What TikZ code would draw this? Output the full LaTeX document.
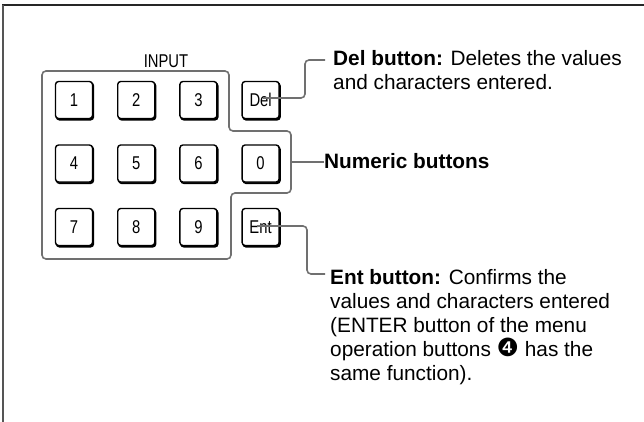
\documentclass[tikz,border=0pt]{standalone}
\usepackage{fontspec}
\setmainfont{Liberation Sans}
\newfontfamily\narrowfont[FakeStretch=0.8]{Liberation Sans}
\newfontfamily\symbolfont{DejaVu Sans}
\usetikzlibrary{shadows,calc}

\definecolor{leadgray}{RGB}{112,112,112}
\definecolor{framegray}{RGB}{85,85,85}

\tikzset{
  keybox/.style={draw, fill=white, line width=1.4pt, rounded corners=3pt,
    minimum width=37pt, minimum height=37pt, inner sep=0pt,
    font=\narrowfont\fontsize{18.5}{18.5}\selectfont,
    copy shadow={shadow xshift=1pt, shadow yshift=-1.4pt, draw=black, fill=black}},
  lead/.style={draw=leadgray, line width=1.6pt, rounded corners=4pt},
  note/.style={font=\fontsize{20.8}{24}\selectfont, align=left, inner sep=0pt}
}

\begin{document}
\begin{tikzpicture}[x=1pt,y=-1pt]
      \useasboundingbox (0,0) rectangle (644,422);

      %%%%%%%%%%%%%%%%%%%%%%%%%%%%%%%%%%%%%%%%%%%%%%%%%%%%%%%%%%%%%%%%%%%%%%%%%%%
      %%%%  Frame
      \draw[black!85,line width=1.5pt] (2,5) -- (644,5);
      \draw[framegray,line width=1.8pt] (3,5) -- (3,422);

      %%%%%%%%%%%%%%%%%%%%%%%%%%%%%%%%%%%%%%%%%%%%%%%%%%%%%%%%%%%%%%%%%%%%%%%%%%%
      %%%%  Numeric group outline
      \draw[lead] (42,71) -- (229,71) -- (229,131) -- (291,131) -- (291,193)
        -- (231,193) -- (231,259) -- (42,259) -- cycle;
      \node[font=\narrowfont\fontsize{18.5}{18.5}\selectfont] (input) at (166,61) {INPUT};

      %%%%%%%%%%%%%%%%%%%%%%%%%%%%%%%%%%%%%%%%%%%%%%%%%%%%%%%%%%%%%%%%%%%%%%%%%%%
      %%%%  Keys
      \foreach \lab/\col/\row in {1/0/0,2/1/0,3/2/0,Del/3/0,
                                  4/0/1,5/1/1,6/2/1,0/3/1,
                                  7/0/2,8/1/2,9/2/2,Ent/3/2}
      {\pgfmathsetmacro\kx{74 + 62.2*\col}
       \pgfmathsetmacro\ky{100 + 63.5*\row}
       \node[keybox] (b\lab) at (\kx,\ky) {\lab};
      };

      %%%%%%%%%%%%%%%%%%%%%%%%%%%%%%%%%%%%%%%%%%%%%%%%%%%%%%%%%%%%%%%%%%%%%%%%%%%
      %%%%  Notes
      \coordinate (delend) at (325,60);
      \coordinate (numend) at (324,162);
      \coordinate (entend) at (325,274);

      \node[note, anchor=north west] (delnote) at (333,50.5)
        {\textbf{Del button:} Deletes the values\\and characters entered.};
      \node[note, anchor=base west] (numnote) at (324,168)
        {\textbf{Numeric buttons}};
      \node[note, anchor=north west] (entnote) at (330,269.5)
        {\textbf{Ent button:} Confirms the\\values and characters entered\\%
         (ENTER button of the menu\\operation buttons {\symbolfont\fontsize{25}{24}\selectfont ❹} has the\\same function).};

      \draw[lead] ([xshift=2.5pt,yshift=2pt]bDel.center) -| ($(delend)+(-20,0)$) -- (delend);
      \draw[lead] (291,162) -- (numend);
      \draw[lead] ([xshift=-3.5pt,yshift=1pt]bEnt.center) -| ($(entend)+(-18,0)$) -- (entend);
    \end{tikzpicture}
\end{document}
